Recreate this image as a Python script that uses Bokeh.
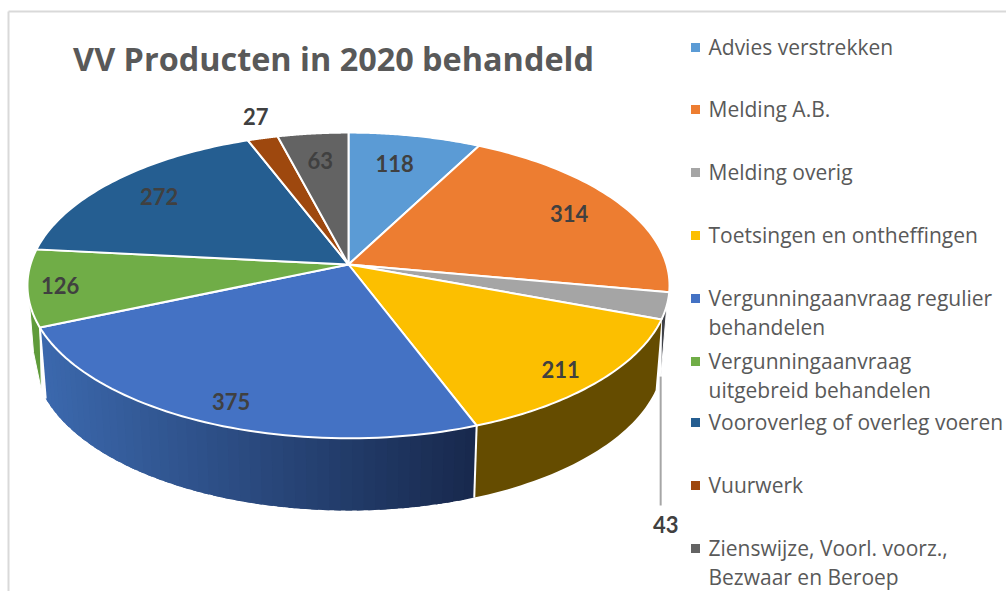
import math
from bokeh.plotting import figure
from bokeh.models import Range1d
from bokeh.core.properties import value
from bokeh.embed import file_html
from bokeh.resources import INLINE

# --- data
categories = ["Advies verstrekken", "Melding A.B.", "Melding overig", "Toetsingen en ontheffingen",
              "Vergunningaanvraag regulier behandelen", "Vergunningaanvraag uitgebreid behandelen",
              "Vooroverleg of overleg voeren", "Vuurwerk", "Zienswijze, Voorl. voorz., Bezwaar en Beroep"]
values = [118, 314, 43, 211, 375, 126, 272, 27, 63]
colors = ["#5b9bd5", "#ed7d31", "#a5a5a5", "#fcbf00", "#4472c4", "#70ad47", "#255e91", "#9e480e", "#636363"]
title_text = "VV Producten in 2020 behandeld"
legend_lines = [["Advies verstrekken"], ["Melding A.B."], ["Melding overig"], ["Toetsingen en ontheffingen"],
                ["Vergunningaanvraag regulier", "behandelen"], ["Vergunningaanvraag", "uitgebreid behandelen"],
                ["Vooroverleg of overleg voeren"], ["Vuurwerk"], ["Zienswijze, Voorl. voorz.,", "Bezwaar en Beroep"]]
legend_y = [47, 109, 172, 235, 298, 361, 422, 485, 548]
label_r = [0.757, 0.81, None, 0.883, 0.876, 0.90, 0.80, 1.19, 0.77]
label_da = [-1.5, 0, 0, 1.5, -1, 0, 0, 1.3, 0]

# --- projection of the pie
CX, CY, A, B, K = 348, 264, 318, 150, 0.137
A2, CY2, B2 = 312, 334.3, 151.6

def top(deg, r=1.0):
    t = math.radians(deg)
    u, v = r * math.sin(t), -r * math.cos(t)
    d = 1 - K * v
    return CX + A * u / d, CY + B * v / d

def bot(deg):
    t = math.radians(deg)
    u, v = math.sin(t), -math.cos(t)
    d = 1 - K * v
    return CX + A2 * u / d, CY2 + B2 * v / d

total = sum(values)
edges = [0.0]
for val in values:
    edges.append(edges[-1] + val / total * 360)
mids = [(edges[i] + edges[i + 1]) / 2 for i in range(len(values))]

p = figure(width=1006, height=591, output_backend="svg", toolbar_location=None,
           x_range=Range1d(0, 1006), y_range=Range1d(591, 0), min_border=0,
           outline_line_color=None, background_fill_color="white", margin=(0, 0, 0, 0))
p.axis.visible = False
p.grid.visible = False

# chart frame
p.line([8, 8], [11, 591], line_color="#d9d9d9", line_width=2)
p.line([8, 1006], [11, 11], line_color="#d9d9d9", line_width=2)

def arc(fn, a0, a1, n=40):
    return [fn(a0 + (a1 - a0) * i / n) for i in range(n + 1)]

def wall(a0, a1, color, n=40):
    pts = arc(top, a0, a1, n) + arc(bot, a1, a0, n)
    p.patch([q[0] for q in pts], [q[1] for q in pts], fill_color=color, line_color=None)

# slivers at the silhouette
sliver_grey = [top(105), top(edges[3]), bot(105)]
p.patch([q[0] for q in sliver_grey], [q[1] for q in sliver_grey], fill_color="#3f4148", line_color="white", line_width=1)
sliver_green = arc(top, 256, edges[5], 10) + [bot(249.6), (33, 352)]
p.patch([q[0] for q in sliver_green], [q[1] for q in sliver_green], fill_color="#5f9b3a", line_color="white", line_width=1)

# gold wall
wall(edges[3], edges[4], "#654c00")

# blue wall with gradient: each strip runs on under the next one, so no seams show
c_left, c_right = (0x3c, 0x69, 0xae), (0x18, 0x29, 0x4d)
strips = 48
step = (edges[5] - edges[4]) / strips
x_l, x_r = bot(edges[5])[0], bot(edges[4])[0]
for i in range(strips):
    a0 = edges[4] + step * i
    a1 = min(a0 + step * 1.6, edges[5])
    f = (bot(a0 + step / 2)[0] - x_l) / (x_r - x_l)
    c = tuple(int(c_left[j] + (c_right[j] - c_left[j]) * f) for j in range(3))
    wall(a0, a1, "#%02x%02x%02x" % c, n=3)

# white separators on the wall
for ang in (edges[4], edges[5]):
    a, b = top(ang), bot(ang)
    p.line([a[0], b[0]], [a[1], b[1]], line_color="white", line_width=2)

# top surface
for i, val in enumerate(values):
    pts = [(CX, CY)] + arc(top, edges[i], edges[i + 1], 60)
    p.patch([q[0] for q in pts], [q[1] for q in pts], fill_color=colors[i],
            line_color="white", line_width=2, line_join="round")

# leader line for the small slice
leader = bot(mids[2])
LEADER_END = 505
p.line([leader[0], leader[0]], [leader[1], LEADER_END], line_color="#a6a6a6", line_width=2)

# data labels
lx, ly, lt = [], [], []
for i, val in enumerate(values):
    if label_r[i] is None:
        lx.append(leader[0] + 5); ly.append(524)
    else:
        q = top(mids[i] + label_da[i], label_r[i])
        lx.append(q[0]); ly.append(q[1])
    lt.append(str(val))
p.text(lx, ly, text=lt, text_font=value("Lato"), text_font_style="bold", text_font_size="22px",
       text_color="#404040", text_align="center", text_baseline="middle")

# title
p.text([333], [57], text=[title_text], text_font=value("Open Sans"), text_font_style="bold",
       text_font_size="32.4px", text_color="#595959", text_align="center", text_baseline="middle")

# legend
LINE_H = 29
p.scatter([695] * len(values), legend_y, marker="square", size=9, fill_color=colors, line_color=None)
tx, ty, tt = [], [], []
for y, lines in zip(legend_y, legend_lines):
    for j, s in enumerate(lines):
        tx.append(708); ty.append(y - 1 + j * LINE_H); tt.append(s)
p.text(tx, ty, text=tt, text_font=value("Open Sans"), text_font_size="21px", text_color="#595959",
       text_align="left", text_baseline="middle")

open("out.html", "w").write(file_html(p, INLINE))
